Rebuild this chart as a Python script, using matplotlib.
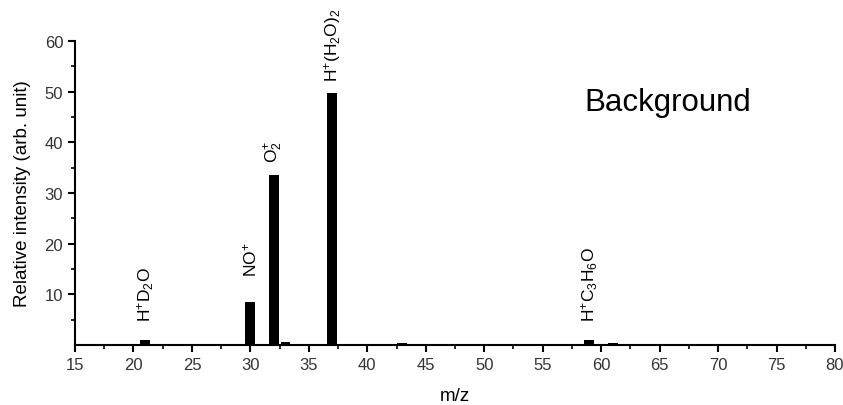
import numpy as np
import matplotlib
matplotlib.use('Agg')
import matplotlib.pyplot as plt
from matplotlib.ticker import MultipleLocator, FixedLocator

plt.rcParams['font.family'] = ['Liberation Sans', 'DejaVu Sans']
plt.rcParams['mathtext.fontset'] = 'custom'
plt.rcParams['mathtext.rm'] = 'Liberation Sans'
plt.rcParams['mathtext.it'] = 'Liberation Sans'
plt.rcParams['mathtext.bf'] = 'Liberation Sans:bold'

# mass spectrum peaks (m/z, relative intensity)
mz = [21, 30, 32, 33, 37, 43, 59, 61]
intensity = [1.0, 8.5, 33.6, 0.6, 49.8, 0.3, 1.0, 0.3]

# peak labels: m/z and text
label_mz = [21, 30, 32, 37, 59]
label_text = [r'H$^{+}$D$_{2}$O', r'NO$^{+}$', r'O$_{2}^{+}$',
              r'H$^{+}$(H$_{2}$O)$_{2}$', r'H$^{+}$C$_{3}$H$_{6}$O']
label_y = [4.7, 13.6, 36.0, 52.0, 4.7]

fig = plt.figure(figsize=(8.43, 4.06), dpi=100)
ax = fig.add_axes([0.089, 0.148, 0.9015, 0.749])

ax.bar(mz, intensity, width=0.85, color='k')

for x, t, y in zip(label_mz, label_text, label_y):
    ax.text(x, y, t, rotation=90, ha='center', va='bottom', fontsize=12.5)

ax.text(0.78, 0.80, 'Background', transform=ax.transAxes,
        ha='center', va='center', fontsize=22.5)

ax.set_xlim(15, 80)
ax.set_ylim(0, 60)
ax.xaxis.set_major_locator(MultipleLocator(5))
ax.xaxis.set_minor_locator(MultipleLocator(2.5))
ax.yaxis.set_major_locator(FixedLocator([10, 20, 30, 40, 50, 60]))
ax.yaxis.set_minor_locator(FixedLocator([5, 15, 25, 35, 45, 55]))

for s in ['top', 'right']:
    ax.spines[s].set_visible(False)
for s in ['left', 'bottom']:
    ax.spines[s].set_linewidth(1.5)

ax.tick_params(which='major', direction='out', length=5, width=1.5,
               labelsize=12, labelcolor='#333333')
ax.tick_params(which='minor', direction='out', length=3, width=1.2)

ax.set_xlabel('m/z', fontsize=13.5, labelpad=11)
ax.set_ylabel('Relative intensity (arb. unit)', fontsize=13.5, labelpad=10)

plt.savefig('out.png', dpi=100)
plt.close(fig)
